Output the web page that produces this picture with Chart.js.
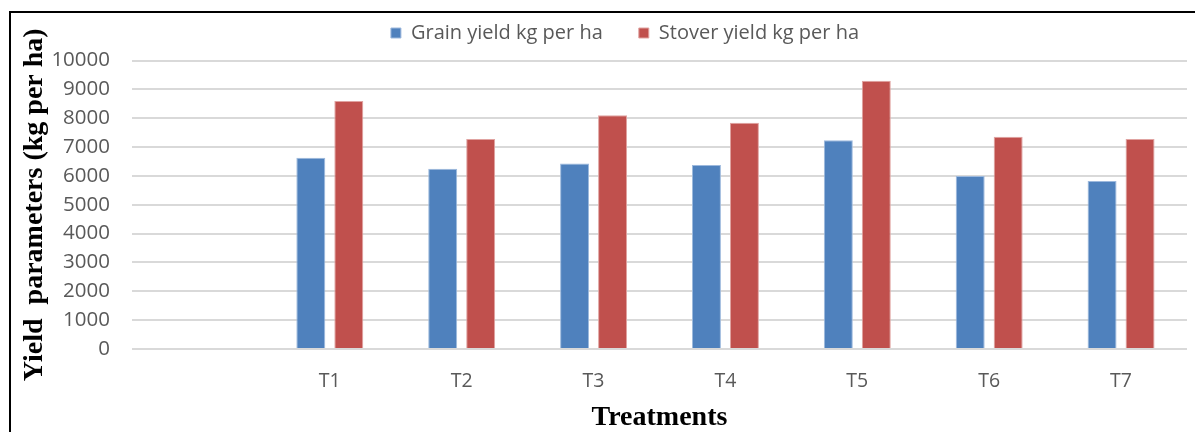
<!DOCTYPE html>
<html>
<head>
<meta charset="utf-8">
<script src="https://cdn.jsdelivr.net/npm/chart.js@4/dist/chart.umd.min.js"></script>
<style>
  html, body { margin: 0; padding: 0; background: #fff; overflow: hidden; width: 1195px; height: 432px; }
  #frame { position: absolute; left: 9px; top: 11px; width: 1400px; height: 600px; border: 2px solid #000; box-sizing: border-box; }
  #wrap { position: absolute; left: 0; top: 0; width: 1250px; height: 432px; }
</style>
</head>
<body>
<div id="frame"></div>
<div id="wrap"><canvas id="c"></canvas></div>
<script>
// Treatment categories (first slot is left empty on the axis)
const categories = ['', 'T1', 'T2', 'T3', 'T4', 'T5', 'T6', 'T7'];
// Yields, kg per ha
const grainYield  = [null, 6630, 6250, 6430, 6380, 7240, 6000, 5820];
const stoverYield = [null, 8600, 7280, 8100, 7840, 9300, 7360, 7280];
// Value axis ticks
const yTicks = [0, 1000, 2000, 3000, 4000, 5000, 6000, 7000, 8000, 9000, 10000];

const tickColor = '#595959';

new Chart(document.getElementById('c'), {
  type: 'bar',
  data: {
    labels: categories,
    datasets: [
      {
        label: 'Grain yield kg per ha',
        data: grainYield,
        backgroundColor: '#4F81BD',
        borderColor: '#9DB9DD',
        borderWidth: 1,
        xAxisID: 'x', yAxisID: 'y',
        categoryPercentage: 0.576,
        barPercentage: 0.763
      },
      {
        label: 'Stover yield kg per ha',
        data: stoverYield,
        backgroundColor: '#C0504D',
        borderColor: '#E0A3A1',
        borderWidth: 1,
        xAxisID: 'x', yAxisID: 'y',
        categoryPercentage: 0.576,
        barPercentage: 0.763
      }
    ]
  },
  options: {
    responsive: true,
    maintainAspectRatio: false,
    animation: false,
    layout: { padding: { top: -13, left: 0, right: 0, bottom: 0 } },
    plugins: {
      legend: {
        position: 'top',
        align: 'center',
        labels: {
          boxWidth: 10,
          boxHeight: 10,
          padding: 36,
          color: tickColor,
          font: { family: 'Open Sans', size: 20 }
        }
      },
      tooltip: { enabled: false }
    },
    scales: {
      x: {
        type: 'category',
        position: 'bottom',
        grid: { display: false, drawTicks: false },
        border: { display: false },
        ticks: { color: tickColor, padding: 21, font: { family: 'Open Sans', size: 19.5 } },
        title: {
          display: true,
          text: 'Treatments',
          color: '#000',
          font: { family: 'Liberation Serif', size: 28, weight: 'bold', lineHeight: 1 },
          padding: { top: 0, bottom: 0 }
        },
        afterFit: s => { s.height = 83; }
      },
      xTop: {
        type: 'category',
        position: 'top',
        display: true,
        grid: { display: false, drawTicks: false },
        border: { display: false },
        ticks: { display: false },
        afterFit: s => { s.height = 7.5; }
      },
      y: {
        type: 'linear',
        position: 'left',
        min: 0,
        max: 10000,
        afterBuildTicks: s => { s.ticks = yTicks.map(v => ({ value: v })); },
        grid: { color: '#D9D9D9', lineWidth: 2, drawTicks: false },
        border: { display: false },
        ticks: {
          color: tickColor, padding: 22,
          font: { family: 'Open Sans', size: 20.5 },
          callback: v => String(v)
        },
        title: {
          display: true,
          text: 'Yield  parameters (kg per ha)',
          color: '#000',
          font: { family: 'Liberation Serif', size: 28, weight: 'bold', lineHeight: 1.2 },
          padding: { top: 18, bottom: 0 }
        },
        afterFit: s => { s.width = 132; }
      },
      yRight: {
        type: 'linear',
        position: 'right',
        display: true,
        grid: { display: false, drawTicks: false },
        border: { display: false },
        ticks: { display: false },
        afterFit: s => { s.width = 63; }
      }
    }
  }
});
</script>
</body>
</html>
